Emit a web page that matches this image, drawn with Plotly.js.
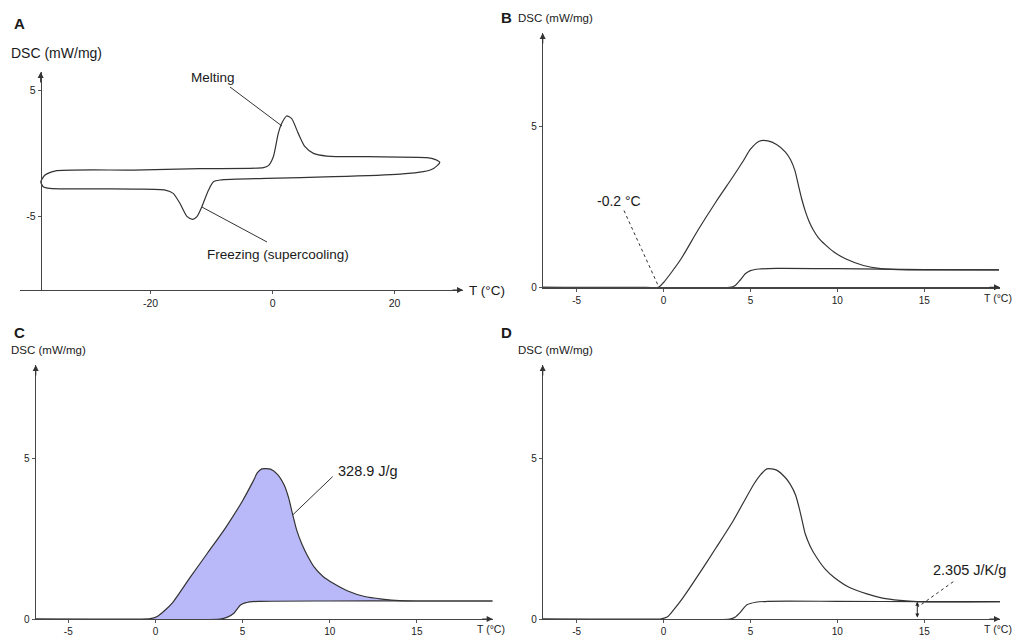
<!DOCTYPE html>
<html><head><meta charset="utf-8">
<script src="https://cdn.plot.ly/plotly-3.0.1.min.js"></script>
<style>html,body{margin:0;padding:0;background:#fff}#chart{width:1014px;height:636px}</style>
</head><body><div id="chart"></div>
<script>
// ---- Panel A: full heating / cooling loop ----
const tempA = [-38.0,-37.3,-35.7,-22.8,-11.9,-1.5,-0.7,0.12,0.93,1.5,2.3,3.1,4.2,5.3,6.7,8.9,15.4,25.3,26.6,27.4,
               26.4,24.7,20.9,10.0,-1.0,-8.6,-9.7,-10.5,-11.6,-12.4,-13.1,-14.0,-15.2,-16.3,-17.6,-22.8,-36.5,-37.6,-38.0];
const dscA  = [-2.28,-1.75,-1.43,-1.35,-1.24,-1.16,-1.0,-0.29,1.56,2.36,2.94,2.75,1.56,0.5,-0.03,-0.24,-0.29,-0.37,-0.5,-0.74,
               -1.22,-1.48,-1.67,-1.88,-2.01,-2.14,-2.28,-2.94,-4.26,-5.05,-5.26,-5.05,-3.99,-3.2,-2.94,-2.86,-2.8,-2.67,-2.28];

// ---- Panel B ----
const tempBPeak = [-6.94,-1,-0.3,0,0.5,1,2,3,4,4.6,5.0,5.5,6.0,6.5,7.0,7.3,7.55,7.75,7.95,8.15,8.35,8.6,8.9,9.3,9.8,10.5,11.5,12.5,13.5,15,19.3];
const dscBPeak  = [0,0,0,0.15,0.5,0.88,1.8,2.65,3.45,3.95,4.3,4.55,4.56,4.45,4.22,3.98,3.65,3.2,2.75,2.38,2.08,1.8,1.55,1.33,1.1,0.88,0.68,0.58,0.55,0.54,0.54];
const tempBBase = [-6.94,3.8,4.1,4.4,4.7,5.0,5.5,6.5,10,15,19.3];
const dscBBase  = [0,0,0.05,0.22,0.42,0.52,0.57,0.59,0.58,0.55,0.54];

// ---- Panel C ----
const tempCPeak = [-6.87,-1,-0.3,0.1,0.5,1,2,3,4,5,5.6,5.85,6.1,6.6,7.0,7.4,7.65,7.85,8.1,8.4,8.7,9.1,9.6,10.2,11,12,13,14,15,19.35];
const dscCPeak  = [0,0,0.01,0.08,0.25,0.52,1.3,2.06,2.82,3.68,4.28,4.55,4.67,4.66,4.5,4.15,3.75,3.3,2.77,2.33,1.99,1.62,1.33,1.11,0.88,0.7,0.62,0.57,0.56,0.56];
const tempCBase = [-6.87,3.7,4.1,4.5,4.9,5.4,6,10,15,19.35];
const dscCBase  = [0,0,0.05,0.18,0.44,0.53,0.55,0.56,0.56,0.56];

// ---- Panel D ----
const tempDPeak = [-6.94,-1,-0.2,0.2,0.6,1.1,2.1,3,4,5.2,5.6,5.95,6.5,7.0,7.3,7.6,7.85,8.0,8.15,8.45,8.8,9.3,9.8,10.7,11.7,12.6,13.6,14.6,19.36];
const dscDPeak  = [0,0,0,0.06,0.3,0.65,1.45,2.2,3.05,4.2,4.5,4.67,4.63,4.4,4.18,3.85,3.35,3.0,2.65,2.25,1.92,1.55,1.3,0.98,0.78,0.65,0.58,0.54,0.54];
const tempDBase = [-6.94,3.8,4.1,4.4,4.8,5.3,6,10,15,19.36];
const dscDBase  = [0,0,0.05,0.2,0.44,0.52,0.55,0.55,0.54,0.54];

// ---- Tick labels ----
const xTicksA = [-20,0,20];
const yTicksA = [-5,5];
const xTicksBCD = [-5,0,5,10,15];
const yTicksBCD = [0,5];

// ---- Annotation values ----
const onsetLabel = '-0.2 °C';
const enthalpyLabel = '328.9 J/g';
const heatCapLabel = '2.305 J/K/g';
const heatCapT = 14.6;
const heatCapLevel = 0.54;

const W = 1014, H = 636;
const FONT = 'Liberation Sans, Arial, sans-serif';
const LC = '#333';
const px = v => v / W, py = v => 1 - v / H;

function line(x, y, xa, ya, extra) {
  return Object.assign({x, y, xaxis: xa, yaxis: ya, mode: 'lines', type: 'scatter',
    line: {color: LC, width: 1.2, shape: 'spline', smoothing: 0.7}, hoverinfo: 'skip'}, extra || {});
}

const traces = [
  line(tempA, dscA, 'x', 'y'),
  line(tempBBase, dscBBase, 'x2', 'y2'),
  line(tempBPeak, dscBPeak, 'x2', 'y2'),
  line(tempCBase, dscCBase, 'x3', 'y3'),
  line(tempCPeak, dscCPeak, 'x3', 'y3', {fill: 'tonexty', fillcolor: '#b9b9f9'}),
  line(tempDBase, dscDBase, 'x4', 'y4'),
  line(tempDPeak, dscDPeak, 'x4', 'y4')
];

function ax(vals, extra) {
  return Object.assign({showgrid: false, zeroline: false, showline: true, linecolor: '#444', linewidth: 1.2,
    ticks: 'outside', ticklen: 3, tickcolor: '#555', tickwidth: 1, tickmode: 'array',
    tickvals: vals, ticktext: vals.map(v => String(v)),
    tickfont: {family: FONT, size: 10, color: '#222'}, fixedrange: true}, extra);
}

const layout = {
  width: W, height: H, margin: {l: 0, r: 0, t: 0, b: 0},
  paper_bgcolor: '#fff', plot_bgcolor: 'rgba(0,0,0,0)', showlegend: false, hovermode: false,
  xaxis:  ax(xTicksA, {domain: [px(20), px(463)], range: [-41.41, 31.21], anchor: 'y', tickfont: {family: FONT, size: 10.5, color: '#222'}}),
  yaxis:  ax(yTicksA, {domain: [py(290), py(72)], range: [-10.87, 6.43], anchor: 'free', position: px(40.7), tickfont: {family: FONT, size: 10.5, color: '#222'}}),
  xaxis2: ax(xTicksBCD, {domain: [px(543), px(1000)], range: [-6.94, 19.36], anchor: 'y2'}),
  yaxis2: ax(yTicksBCD, {domain: [py(287.3), py(33)], range: [0, 7.92], anchor: 'x2'}),
  xaxis3: ax(xTicksBCD, {domain: [px(35.7), px(492.7)], range: [-6.87, 19.35], anchor: 'y3'}),
  yaxis3: ax(yTicksBCD, {domain: [py(619), py(365)], range: [0, 7.9], anchor: 'x3'}),
  xaxis4: ax(xTicksBCD, {domain: [px(543), px(1000)], range: [-6.94, 19.36], anchor: 'y4'}),
  yaxis4: ax(yTicksBCD, {domain: [py(619), py(365)], range: [0, 7.9], anchor: 'x4'}),
  shapes: [
    {type: 'line', xref: 'x', yref: 'y', x0: -6.98, y0: 5.24, x1: 1.54, y1: 2.14, line: {color: LC, width: 1}},
    {type: 'line', xref: 'x', yref: 'y', x0: -11.57, y0: -4.29, x1: -0.92, y1: -7.06, line: {color: LC, width: 1}},
    {type: 'line', xref: 'x2', yref: 'y2', x0: -2.28, y0: 2.39, x1: -0.3, y1: 0.04, line: {color: LC, width: 1, dash: 'dot'}},
    {type: 'line', xref: 'x3', yref: 'y3', x0: 10.17, y0: 4.43, x1: 7.88, y1: 3.24, line: {color: LC, width: 1}},
    {type: 'line', xref: 'x4', yref: 'y4', x0: 16.67, y0: 1.16, x1: 14.65, y1: 0.38, line: {color: LC, width: 1, dash: 'dot'}}
  ],
  annotations: []
};

const A = layout.annotations;
function txt(t, x, y, size, extra) {
  A.push(Object.assign({text: t, xref: 'paper', yref: 'paper', x: px(x), y: py(y), showarrow: false,
    xanchor: 'center', yanchor: 'middle', font: {family: FONT, size: size, color: '#1a1a1a'}}, extra || {}));
}
function head(x, y, dx, dy) {
  A.push({text: '', xref: 'paper', yref: 'paper', x: px(x), y: py(y), ax: dx, ay: dy, showarrow: true,
    arrowhead: 2, arrowsize: 1, arrowwidth: 1.2, arrowcolor: '#333', standoff: 0});
}
// panel letters
txt('<b>A</b>', 19, 23, 15); txt('<b>B</b>', 506, 17, 15); txt('<b>C</b>', 19, 332, 15); txt('<b>D</b>', 506, 332, 15);
// axis titles
txt('DSC (mW/mg)', 56, 53, 14); txt('T (°C)', 487, 290, 13.5);
txt('DSC (mW/mg)', 555, 18, 11.5); txt('T (°C)', 998, 298, 10.5);
txt('DSC (mW/mg)', 48, 350, 11.5); txt('T (°C)', 491, 629, 10.5);
txt('DSC (mW/mg)', 555, 350, 11.5); txt('T (°C)', 998, 629, 10.5);
// callouts
txt('Melting', 213, 78, 13.5); txt('Freezing (supercooling)', 278, 254, 13.5);
txt(onsetLabel, 619, 201, 14); txt(enthalpyLabel, 368, 471, 14.5); txt(heatCapLabel, 969, 570, 14.5);
// axis arrowheads
head(40.7, 72, 0, 12); head(463, 290, -12, 0);
head(542.7, 33, 0, 12); head(1000, 287.3, -12, 0);
head(35.7, 365, 0, 12); head(492.7, 619, -12, 0);
head(542.7, 365, 0, 12); head(1000, 619, -12, 0);
// double arrow (heat capacity step)
A.push({text: '', xref: 'x4', yref: 'y4', axref: 'x4', ayref: 'y4', x: heatCapT, y: heatCapLevel, ax: heatCapT, ay: 0,
  showarrow: true, arrowhead: 2, startarrowhead: 2, arrowside: 'end+start', arrowsize: 0.8, startarrowsize: 0.8,
  arrowwidth: 1, arrowcolor: '#222', standoff: 0, startstandoff: 0});

Plotly.newPlot('chart', traces, layout, {staticPlot: true, displayModeBar: false});
</script></body></html>
